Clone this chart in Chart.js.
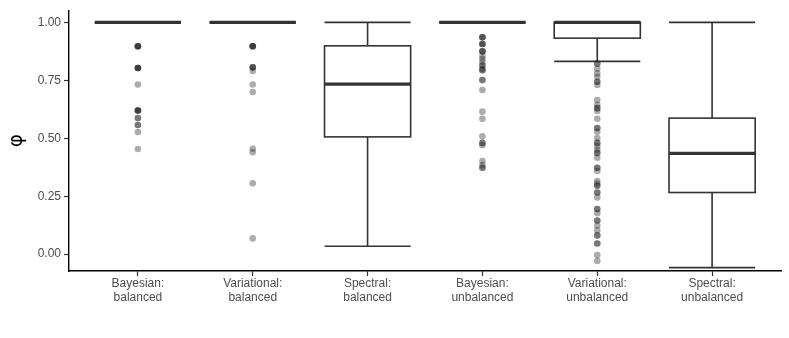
<!DOCTYPE html>
<html>
<head>
<meta charset="utf-8">
<script src="https://cdn.jsdelivr.net/npm/chart.js@4.4.1/dist/chart.umd.min.js"></script>
<style>
  html, body { margin: 0; padding: 0; background: #fff; }
  #wrap { width: 789px; height: 338px; }
</style>
</head>
<body>
<div id="wrap"><canvas id="chart" width="789" height="338"></canvas></div>
<script>
// Categories (two-line labels)
const categories = [
  ['Bayesian:', 'balanced'],
  ['Variational:', 'balanced'],
  ['Spectral:', 'balanced'],
  ['Bayesian:', 'unbalanced'],
  ['Variational:', 'unbalanced'],
  ['Spectral:', 'unbalanced']
];

// Box statistics per category
const whiskerLow  = [1.0, 1.0, 0.034, 1.0, 0.832, -0.058];
const q1          = [1.0, 1.0, 0.506, 1.0, 0.932, 0.266];
const median      = [1.0, 1.0, 0.734, 1.0, 1.0,   0.435];
const q3          = [1.0, 1.0, 0.899, 1.0, 1.0,   0.587];
const whiskerHigh = [1.0, 1.0, 1.0,   1.0, 1.0,   1.0];

// Outliers per category (repeated values = overlapping points)
const outBayesBal = [0.897, 0.897, 0.897, 0.897, 0.803, 0.803, 0.803, 0.803, 0.732,
  0.62, 0.62, 0.62, 0.62, 0.587, 0.587, 0.557, 0.557, 0.527, 0.454];
const outVarBal = [0.897, 0.897, 0.897, 0.897, 0.806, 0.806, 0.806, 0.79, 0.732, 0.70,
  0.455, 0.44, 0.306, 0.068];
const outSpecBal = [];
const outBayesUnb = [0.936, 0.936, 0.936, 0.907, 0.907, 0.907, 0.875, 0.875, 0.875,
  0.855, 0.843, 0.83, 0.815, 0.815, 0.80, 0.794, 0.794, 0.751, 0.751, 0.708,
  0.615, 0.584, 0.509, 0.48, 0.48, 0.47, 0.402, 0.385, 0.373, 0.373];
const outVarUnb = [0.822, 0.822, 0.80, 0.78, 0.765, 0.744, 0.744, 0.73,
  0.665, 0.644, 0.63, 0.63, 0.618, 0.584, 0.544, 0.544, 0.528, 0.501,
  0.48, 0.48, 0.466, 0.45, 0.437, 0.437, 0.416, 0.373, 0.373, 0.359,
  0.316, 0.305, 0.295, 0.295, 0.266, 0.266, 0.245, 0.195, 0.195, 0.177,
  0.145, 0.145, 0.124, 0.103, 0.081, 0.081, 0.046, 0.046, -0.004, -0.029];
const outSpecUnb = [];
const outliers = [outBayesBal, outVarBal, outSpecBal, outBayesUnb, outVarUnb, outSpecUnb];

// Axis ticks
const yTicks = [0, 0.25, 0.5, 0.75, 1.0];
const yTickLabels = ['0.00', '0.25', '0.50', '0.75', '1.00'];

const BOX_WIDTH = 0.75;
const INK = '#333333';

// Boxplot drawn through the chart's own scales
const boxPlugin = {
  id: 'boxes',
  beforeDatasetsDraw(chart) {
    const ctx = chart.ctx;
    const xs = chart.scales.x, ys = chart.scales.y;
    ctx.save();
    ctx.strokeStyle = INK;
    categories.forEach(function (c, i) {
      const cx = xs.getPixelForValue(i + 1);
      const x0 = xs.getPixelForValue(i + 1 - BOX_WIDTH / 2);
      const x1 = xs.getPixelForValue(i + 1 + BOX_WIDTH / 2);
      const yLo = ys.getPixelForValue(whiskerLow[i]);
      const yQ1 = ys.getPixelForValue(q1[i]);
      const yMed = ys.getPixelForValue(median[i]);
      const yQ3 = ys.getPixelForValue(q3[i]);
      const yHi = ys.getPixelForValue(whiskerHigh[i]);

      ctx.lineWidth = 1.6;
      ctx.beginPath();
      // whisker stems
      ctx.moveTo(cx, yHi); ctx.lineTo(cx, yQ3);
      ctx.moveTo(cx, yQ1); ctx.lineTo(cx, yLo);
      // caps
      ctx.moveTo(x0, yHi); ctx.lineTo(x1, yHi);
      ctx.moveTo(x0, yLo); ctx.lineTo(x1, yLo);
      ctx.stroke();

      ctx.fillStyle = '#ffffff';
      ctx.fillRect(x0, yQ3, x1 - x0, yQ1 - yQ3);
      ctx.strokeRect(x0, yQ3, x1 - x0, yQ1 - yQ3);

      // median
      ctx.lineWidth = 3.2;
      ctx.beginPath();
      ctx.moveTo(x0, yMed); ctx.lineTo(x1, yMed);
      ctx.stroke();
    });
    ctx.restore();
  }
};

const points = [];
outliers.forEach(function (arr, i) {
  arr.forEach(function (v) { points.push({ x: i + 1, y: v }); });
});

new Chart(document.getElementById('chart'), {
  type: 'scatter',
  data: {
    datasets: [{
      data: points,
      pointRadius: 3.3,
      pointHoverRadius: 3.3,
      pointBorderWidth: 0,
      backgroundColor: 'rgba(25,25,25,0.36)',
      borderColor: 'rgba(0,0,0,0)'
    }]
  },
  options: {
    responsive: false,
    devicePixelRatio: 1,
    animation: false,
    layout: { padding: { top: 8, right: 8, left: 0, bottom: 0 } },
    plugins: { legend: { display: false }, tooltip: { enabled: false } },
    scales: {
      x: {
        type: 'linear',
        min: 0.4,
        max: 6.6,
        afterBuildTicks(scale) {
          scale.ticks = categories.map(function (c, i) { return { value: i + 1 }; });
        },
        afterFit(scale) { scale.height = 67; },
        ticks: {
          autoSkip: false,
          maxRotation: 0,
          padding: 1,
          color: '#4d4d4d',
          font: { family: "'Liberation Sans', Arial, sans-serif", size: 12, lineHeight: 1.15 },
          callback: function (v) { return categories[Math.round(v) - 1]; }
        },
        grid: { drawOnChartArea: false, drawTicks: true, tickLength: 5, color: INK, tickWidth: 1.2 },
        border: { display: true, color: '#000', width: 1.4 }
      },
      y: {
        min: -0.0726,
        max: 1.0526,
        afterBuildTicks(scale) {
          scale.ticks = yTicks.map(function (v) { return { value: v }; });
        },
        afterFit(scale) { scale.width = 69; },
        ticks: {
          padding: 3,
          color: '#4d4d4d',
          font: { family: "'Liberation Sans', Arial, sans-serif", size: 12 },
          callback: function (v) { return yTickLabels[yTicks.indexOf(v)]; }
        },
        title: {
          display: true,
          text: 'φ',
          color: '#000',
          padding: { top: 5, bottom: 0 },
          font: { family: "'DejaVu Sans', sans-serif", size: 20 }
        },
        grid: { drawOnChartArea: false, drawTicks: true, tickLength: 5, color: INK, tickWidth: 1.2 },
        border: { display: true, color: '#000', width: 1.4 }
      }
    }
  },
  plugins: [boxPlugin]
});
</script>
</body>
</html>
